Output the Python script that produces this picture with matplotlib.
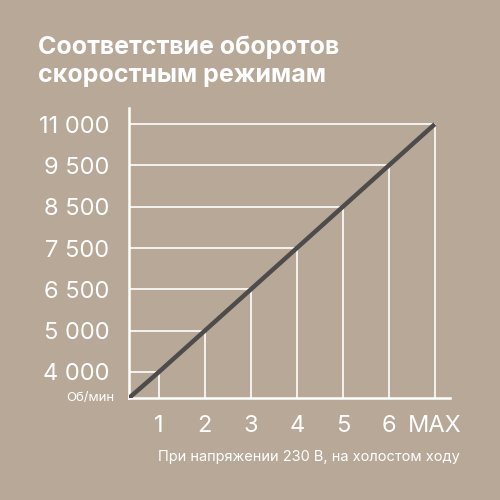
"""
Rotation speed vs speed mode chart
"""

import matplotlib
matplotlib.use('Agg')
import matplotlib.pyplot as plt

BG = '#b7a898'
LINE = '#4e4c4a'

modes = ['1', '2', '3', '4', '5', '6', 'MAX']
rpm_labels = ['4 000', '5 000', '6 500', '7 500', '8 500', '9 500', '11 000']
rpm_values = [4000, 5000, 6500, 7500, 8500, 9500, 11000]

plt.rcParams['font.family'] = ['Inter', 'DejaVu Sans']

fig = plt.figure(figsize=(5, 5), dpi=100, facecolor=BG)
ax = fig.add_axes([0.258, 0.204, 0.642, 0.58])
ax.set_facecolor(BG)

x = list(range(1, len(modes) + 1))
y = list(range(len(rpm_values)))  # speed levels are evenly spaced on the chart
x0, y0 = 0.35, -0.63
ax.set_xlim(x0, 7.33)
ax.set_ylim(y0, 6.39)

# guide lines from the axes to each point
for xi, yi in zip(x, y):
    ax.plot([x0, xi], [yi, yi], color='white', lw=1.2, solid_capstyle='butt', zorder=1)
    ax.plot([xi, xi], [y0, yi], color='white', lw=1.2, solid_capstyle='butt', zorder=1)

# main line, starting at the corner
ax.plot([x0] + x, [y0] + y, color=LINE, lw=3.2, solid_capstyle='butt', zorder=3)

for s in ['top', 'right']:
    ax.spines[s].set_visible(False)
for s in ['left', 'bottom']:
    ax.spines[s].set_color('white')
    ax.spines[s].set_linewidth(1.8)

ax.set_xticks(x)
ax.set_xticklabels(modes)
ax.set_yticks(y)
ax.set_yticklabels(rpm_labels)
ax.tick_params(length=0, colors='white', labelsize=17)
ax.tick_params(axis='x', pad=12)
ax.tick_params(axis='y', pad=14)

fig.text(0.228, 0.204, 'Об/мин', color='white', fontsize=9.5, ha='right', va='center')
fig.text(0.076, 0.878, 'Соответствие оборотов\nскоростным режимам', color='white',
         fontsize=18, fontweight='bold', ha='left', va='center', linespacing=1.3)
fig.text(0.92, 0.086, 'При напряжении 230 В, на холостом ходу', color='white',
         fontsize=10.5, ha='right', va='center')

plt.savefig('out.png', dpi=100, facecolor=BG)
plt.close()
